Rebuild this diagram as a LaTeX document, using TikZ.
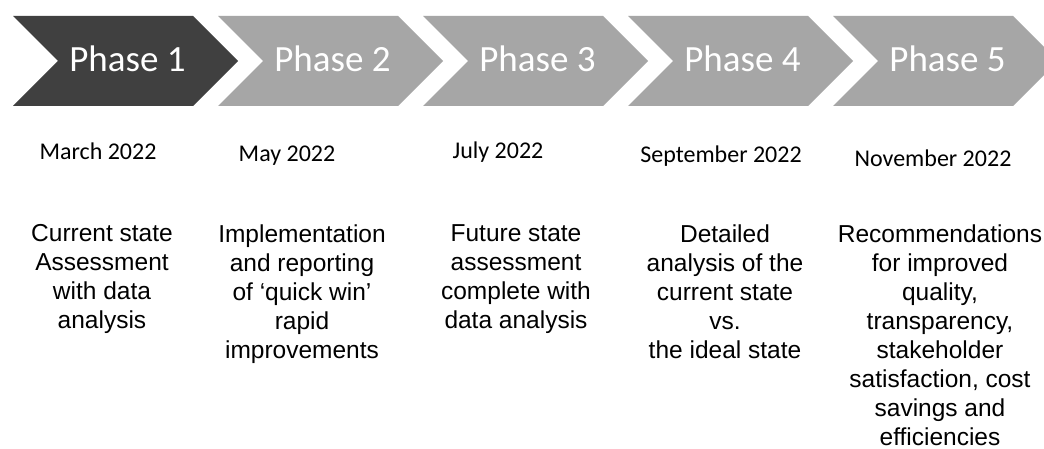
\documentclass[tikz,border=0pt]{standalone}
\usepackage{fontspec}
\setmainfont{Carlito}
\newfontfamily\descfont{Liberation Sans}
\definecolor{phasedark}{HTML}{404040}
\definecolor{phaselight}{HTML}{A6A6A6}
\begin{document}
\begin{tikzpicture}[x=1pt, y=-1pt,
    phase/.style={anchor=base, inner sep=0pt, text=white, font=\fontsize{37}{44}\selectfont},
    date/.style={anchor=base, inner sep=0pt, font=\fontsize{24}{29}\selectfont},
    desc/.style={anchor=north, inner sep=0pt, align=center, font=\descfont\fontsize{24.5}{29}\selectfont}]
    \clip (0, 0) rectangle (1044, 449);
    \fill[white] (0, 0) rectangle (1044, 449);
    \fill[phasedark] (13, 16) -- (193, 16) -- (238, 61) -- (193, 106) -- (13, 106) -- (58, 61) -- cycle;
    \fill[phaselight] (218, 16) -- (398, 16) -- (443, 61) -- (398, 106) -- (218, 106) -- (263, 61) -- cycle;
    \fill[phaselight] (423, 16) -- (603, 16) -- (648, 61) -- (603, 106) -- (423, 106) -- (468, 61) -- cycle;
    \fill[phaselight] (628, 16) -- (808, 16) -- (853, 61) -- (808, 106) -- (628, 106) -- (673, 61) -- cycle;
    \fill[phaselight] (833, 16) -- (1013, 16) -- (1058, 61) -- (1013, 106) -- (833, 106) -- (878, 61) -- cycle;
    \node[phase] (p1) at (127.5, 72) {Phase 1};
    \node[phase] (p2) at (332.5, 72) {Phase 2};
    \node[phase] (p3) at (537.5, 72) {Phase 3};
    \node[phase] (p4) at (742.5, 72) {Phase 4};
    \node[phase] (p5) at (947.5, 72) {Phase 5};
    \node[date] (t1) at (98, 160) {March 2022};
    \node[date] (t2) at (287, 162) {May 2022};
    \node[date] (t3) at (498, 159) {July 2022};
    \node[date] (t4) at (721, 163) {September 2022};
    \node[date] (t5) at (933, 167) {November 2022};
    \node[desc] (d1) at (102, 224.5) {Current state\\Assessment\\with data\\analysis};
    \node[desc] (d2) at (302, 224.5) {Implementation\\and reporting\\of ‘quick win’\\rapid\\improvements};
    \node[desc] (d3) at (516, 224.5) {Future state\\assessment\\complete with\\data analysis};
    \node[desc] (d4) at (725, 224.5) {Detailed\\analysis of the\\current state\\vs.\\the ideal state};
    \node[desc] (d5) at (940, 224.5) {Recommendations\\for improved\\quality,\\transparency,\\stakeholder\\satisfaction, cost\\savings and\\efficiencies};
\end{tikzpicture}
\end{document}
